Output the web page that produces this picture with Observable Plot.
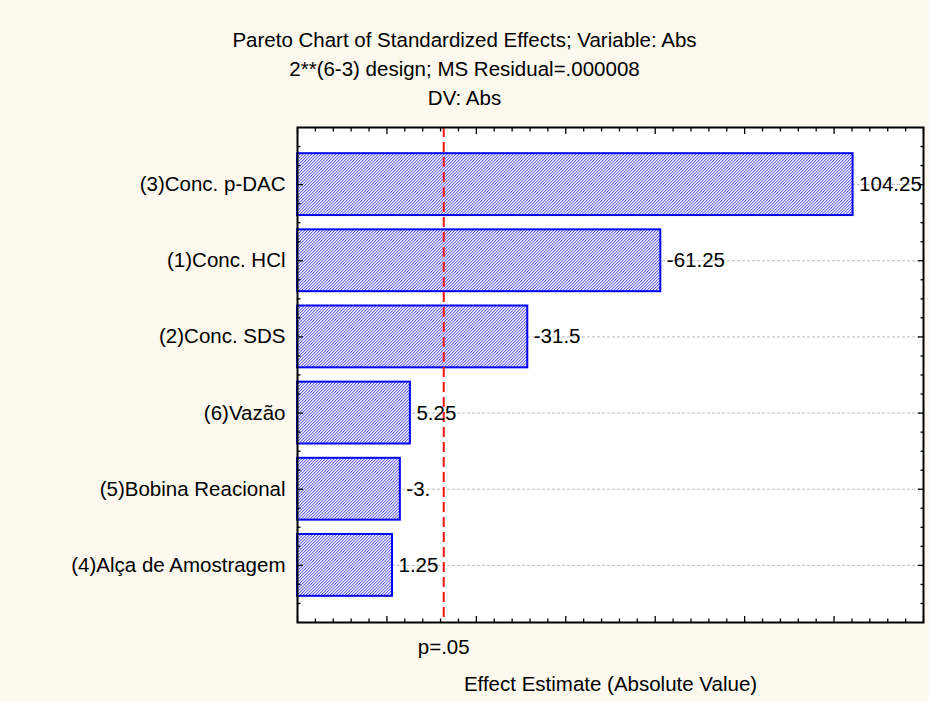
<!DOCTYPE html>
<html><head><meta charset="utf-8">
<script src="https://cdn.jsdelivr.net/npm/d3@7"></script>
<script src="https://cdn.jsdelivr.net/npm/@observablehq/plot@0.6"></script>
<style>
body{margin:0;background:#fdf9ee;font-family:"Liberation Sans",Arial,sans-serif;color:#000;}
#wrap{width:929px;height:702px;position:relative;overflow:hidden;}
#title{position:absolute;left:0;top:25px;width:929px;text-align:center;font-size:20.5px;line-height:29px;}
#chart{position:absolute;left:0;top:112px;}
</style></head><body>
<div id="wrap">
<div id="title">
<div>Pareto Chart of Standardized Effects; Variable: Abs</div>
<div>2**(6-3) design; MS Residual=.000008</div>
<div>DV: Abs</div>
</div>
<div id="chart"></div>
</div>
<script>
// data
const categories = ["(3)Conc. p-DAC","(1)Conc. HCl","(2)Conc. SDS","(6)Vazão","(5)Bobina Reacional","(4)Alça de Amostragem"];
const effects = [104.25, -61.25, -31.5, 5.25, -3, 1.25];
const effectLabels = ["104.25","-61.25","-31.5","5.25","-3.","1.25"];
const pCritical = 12.706;
const pLabel = "p=.05";
const xLabel = "Effect Estimate (Absolute Value)";

const rows = categories.map((c, i) => ({cat: c, rank: i + 1, value: effects[i], label: effectLabels[i]}));

const xDomain = [-20, 120];
const yDomain = [0.25, categories.length + 0.75];
const barHalf = 0.406;
const ranks = rows.map(d => d.rank);
const xMajor = d3.range(xDomain[0], xDomain[1] + 0.001, 20);
const xMinor = d3.range(xDomain[0], xDomain[1] + 0.001, 4).filter(v => !xMajor.includes(v));
const yMinor = d3.range(0.5, categories.length + 0.51, 0.25).filter(v => !Number.isInteger(v));
const blank = () => "";
const majorLen = 6, minorLen = 3.5;

const tickAxes = [];
for (const [ticks, len] of [[xMajor, majorLen], [xMinor, minorLen]]) {
  tickAxes.push(Plot.axisX({anchor: "bottom", ticks, tickSize: len, dy: -len, tickFormat: blank, label: null, strokeWidth: 1.3}));
  tickAxes.push(Plot.axisX({anchor: "top", ticks, tickSize: len, dy: len, tickFormat: blank, label: null, strokeWidth: 1.3}));
}
for (const [ticks, len] of [[ranks, majorLen], [yMinor, minorLen]]) {
  tickAxes.push(Plot.axisY({anchor: "left", ticks, tickSize: len, dx: len, tickFormat: blank, label: null, strokeWidth: 1.3}));
  tickAxes.push(Plot.axisY({anchor: "right", ticks, tickSize: len, dx: -len, tickFormat: blank, label: null, strokeWidth: 1.3}));
}

const plot = Plot.plot({
  width: 929, height: 590,
  marginTop: 15, marginBottom: 80, marginLeft: 297, marginRight: 6,
  style: {fontFamily: "'Liberation Sans', Arial, sans-serif", fontSize: "20.5px", background: "transparent", color: "#000"},
  x: {domain: xDomain, label: null},
  y: {domain: yDomain, reverse: true, label: null},
  marks: [
    Plot.frame({fill: "white"}),
    Plot.ruleY(rows, {y: "rank", stroke: "#bdbdbd", strokeDasharray: "3,2", strokeWidth: 1}),
    Plot.rect(rows, {x1: () => xDomain[0], x2: d => Math.abs(d.value), y1: d => d.rank - barHalf, y2: d => d.rank + barHalf,
      fill: "url(#hatch)", stroke: "#0000ff", strokeWidth: 2}),
    Plot.ruleX([pCritical], {x: d => d, stroke: "#f01414", strokeWidth: 2, strokeDasharray: "10,5"}),
    Plot.text(rows, {x: d => Math.abs(d.value), y: "rank", text: "label", textAnchor: "start", dx: 6, fill: "#000"}),
    Plot.axisY({anchor: "left", ticks: ranks, tickFormat: i => categories[i - 1], tickSize: 0, tickPadding: 12, label: null}),
    ...tickAxes,
    Plot.frame({stroke: "#000", strokeWidth: 2}),
    Plot.text([pCritical], {x: d => d, frameAnchor: "bottom", dy: 31, text: () => pLabel, fill: "#000"}),
    Plot.text([xLabel], {frameAnchor: "bottom", dy: 68, text: d => d, fill: "#000"})
  ]
});
plot.insertAdjacentHTML("afterbegin",
  '<defs><pattern id="hatch" patternUnits="userSpaceOnUse" width="3" height="3">' +
  '<rect width="3" height="3" fill="#f4f4ff"/>' +
  '<g shape-rendering="crispEdges">' +
  '<rect x="0" y="2" width="1" height="1" fill="#6c6cf8"/><rect x="1" y="1" width="1" height="1" fill="#6c6cf8"/><rect x="2" y="0" width="1" height="1" fill="#6c6cf8"/>' +
  '<rect x="1" y="2" width="1" height="1" fill="#c4c4fb"/><rect x="2" y="1" width="1" height="1" fill="#c4c4fb"/><rect x="0" y="0" width="1" height="1" fill="#c4c4fb"/>' +
  '</g></pattern></defs>');
document.getElementById("chart").appendChild(plot);
</script>
</body></html>
